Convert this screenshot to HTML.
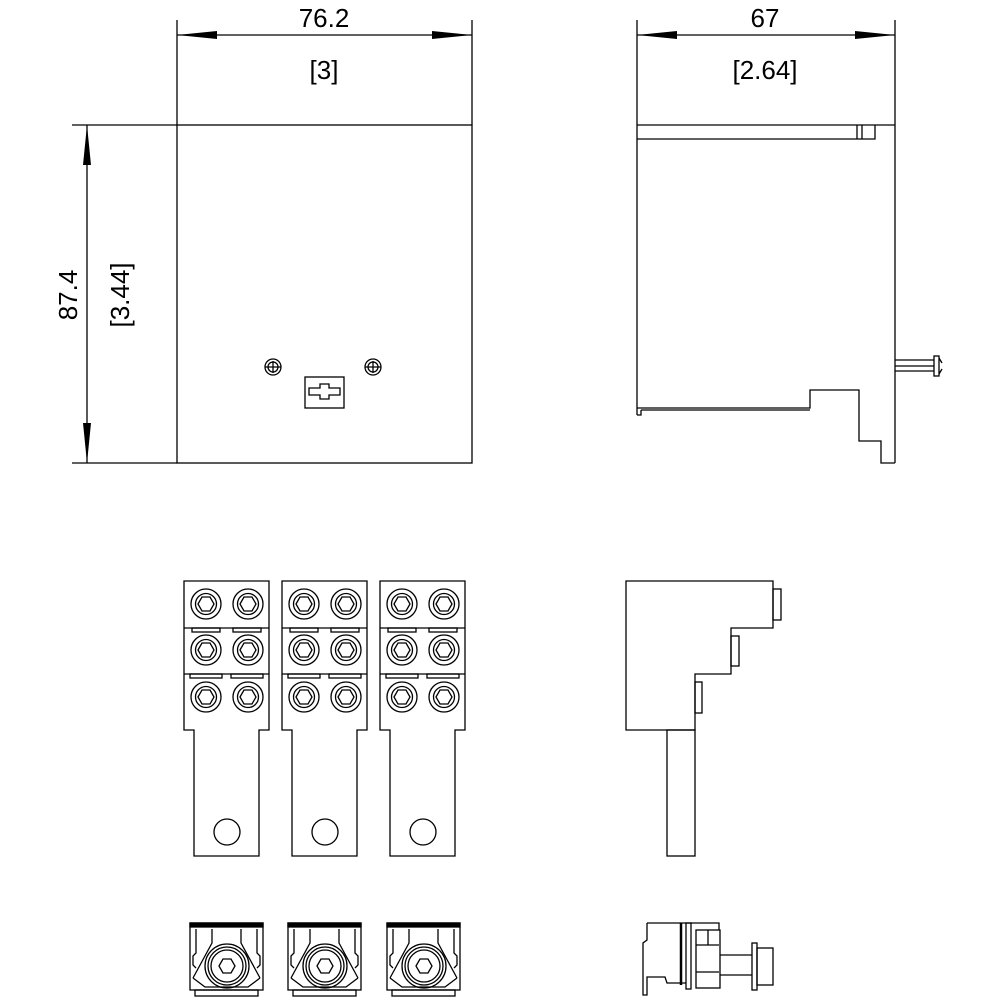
<!DOCTYPE html>
<html><head><style>html,body{margin:0;padding:0;background:#fff}</style></head>
<body>
<svg width="1000" height="1000" viewBox="0 0 1000 1000" xmlns="http://www.w3.org/2000/svg" fill="none" stroke="#000" stroke-width="1.3">
<defs>
<g id="scr">
  <circle r="15"/><circle r="10.5"/>
  <polygon points="-8,0 -4,-7 4,-7 8,0 4,7 -4,7"/>
</g>
<g id="blk">
  <path d="M0,0 H85 V149 H75 V275 H10 V149 H0 Z"/>
  <line x1="0" y1="47" x2="85" y2="47"/><line x1="0" y1="93" x2="85" y2="93"/>
  <rect x="8" y="47" width="28" height="4"/><rect x="49" y="47" width="28" height="4"/>
  <rect x="6" y="93" width="32" height="4"/><rect x="47" y="93" width="32" height="4"/>
  <use href="#scr" x="22" y="23"/><use href="#scr" x="64" y="23"/>
  <use href="#scr" x="22" y="69"/><use href="#scr" x="64" y="69"/>
  <use href="#scr" x="22" y="116"/><use href="#scr" x="64" y="116"/>
  <circle cx="43" cy="251" r="13"/>
</g>
<g id="sb">
  <rect x="0" y="0" width="73" height="67"/>
  <rect x="0" y="0" width="73" height="4" fill="#000"/>
  <rect x="5" y="67" width="63" height="6"/>
  <path d="M6,6 V30 L3,33 V42 L6,45 M67,6 V30 L70,33 V42 L67,45 M22,6 V20 L3,55 M51,6 V20 L70,55"/>
  <path d="M3,55 L15,64 H58 L70,55"/>
  <circle cx="37" cy="43" r="22"/><circle cx="37" cy="43" r="19"/><circle cx="37" cy="43" r="16"/>
  <polygon points="29,43 33,36 41,36 45,43 41,50 33,50"/>
</g>
<marker id="a" viewBox="0 0 40 10" refX="40" refY="5" markerWidth="40" markerHeight="10" markerUnits="userSpaceOnUse" orient="auto-start-reverse"><path d="M0,1 L40,5 L0,9 Z" fill="#000" stroke="none"/></marker>
</defs>

<rect x="177" y="125" width="295" height="338"/>
<line x1="177" y1="20" x2="177" y2="125"/><line x1="472" y1="20" x2="472" y2="125"/>
<line x1="177" y1="35" x2="472" y2="35" marker-start="url(#a)" marker-end="url(#a)"/>
<line x1="72" y1="125" x2="177" y2="125"/><line x1="72" y1="463" x2="177" y2="463"/>
<line x1="87" y1="125" x2="87" y2="463" marker-start="url(#a)" marker-end="url(#a)"/>
<g fill="#000" stroke="none" font-family="Liberation Sans, sans-serif" font-size="26" text-anchor="middle">
<text x="324" y="27">76.2</text>
<text x="324" y="79">[3]</text>
<text x="765" y="27">67</text>
<text x="765" y="79">[2.64]</text>
<text transform="translate(77,295) rotate(-90)">87.4</text>
<text transform="translate(129,295) rotate(-90)">[3.44]</text>
</g>
<circle cx="273" cy="367" r="8"/><circle cx="273" cy="367" r="5"/><path d="M265,367 H281 M273,361 V373"/>
<circle cx="373" cy="367" r="8"/><circle cx="373" cy="367" r="5"/><path d="M365,367 H381 M373,361 V373"/>
<rect x="305" y="377" width="39" height="31"/>
<path d="M309,388 H320 V384 H329 V388 H340 V395 H329 V399 H320 V395 H309 Z"/>

<line x1="637" y1="20" x2="637" y2="415"/><line x1="895" y1="20" x2="895" y2="463"/>
<line x1="637" y1="35" x2="895" y2="35" marker-start="url(#a)" marker-end="url(#a)"/>
<line x1="637" y1="125" x2="895" y2="125"/>
<path d="M637,139 H875 V125 M857,125 V139 M862,125 V139"/>
<path d="M637,408 H810 V390 H859 V441 H881 V463 H895"/>
<path d="M641,410 H810 M637,415 H641 V410"/>
<path d="M895,360 H934 M895,366 H934 M895,371 H934"/>
<rect x="934" y="356" width="5" height="20"/>
<path d="M939,358 L942,363 M939,374 L942,369"/>

<use href="#blk" x="184" y="581"/>
<use href="#blk" x="282" y="581"/>
<use href="#blk" x="380" y="581"/>

<path d="M626,581 H773 V628 H731 V674 H695 V730 H626 Z"/>
<rect x="773" y="589" width="8" height="31"/>
<rect x="731" y="636" width="8" height="30"/>
<rect x="695" y="682" width="7" height="31"/>
<rect x="667" y="730" width="28" height="126"/>

<use href="#sb" x="190" y="923"/>
<use href="#sb" x="288" y="923"/>
<use href="#sb" x="387" y="923"/>

<path d="M647,923 H719 V930 M647,923 V940 L643,943 V995 H647 V977 H665 L667,983 H686"/>
<line x1="681" y1="923" x2="681" y2="985" stroke-width="2.5"/>
<rect x="686" y="923" width="5" height="66"/>
<rect x="696" y="930" width="24" height="58"/>
<path d="M696,945 H719 M696,972 H719 M708,930 V945"/>
<path d="M720,955 H752 M720,975 H752"/>
<rect x="752" y="943" width="5" height="47"/>
<rect x="757" y="948" width="16" height="37"/>
</svg>
</body></html>
